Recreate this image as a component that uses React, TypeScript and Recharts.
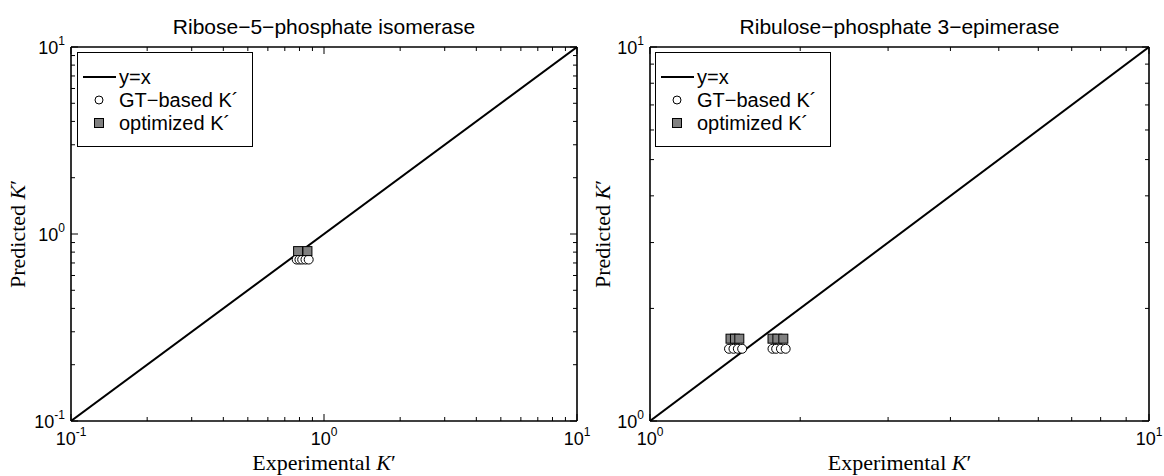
import React from 'react';
import { ScatterChart, Scatter, XAxis, YAxis } from 'recharts';

// Ribose-5-phosphate isomerase (left panel)
const riboseGtX = [0.78, 0.8, 0.82, 0.845, 0.87];
const riboseGtY = [0.73, 0.73, 0.73, 0.73, 0.73];
const riboseOptX = [0.79, 0.86];
const riboseOptY = [0.81, 0.81];
const riboseDomain = [0.1, 10];
const riboseTicks = [0.1, 0.2, 0.3, 0.4, 0.5, 0.6, 0.7, 0.8, 0.9, 1, 2, 3, 4, 5, 6, 7, 8, 9, 10];
const riboseMajor = [0.1, 1, 10];

// Ribulose-phosphate 3-epimerase (right panel)
const epimGtX = [1.44, 1.47, 1.5, 1.53, 1.76, 1.79, 1.83, 1.87];
const epimGtY = [1.56, 1.56, 1.56, 1.56, 1.56, 1.56, 1.56, 1.56];
const epimOptX = [1.45, 1.48, 1.51, 1.76, 1.8, 1.85];
const epimOptY = [1.66, 1.66, 1.66, 1.66, 1.66, 1.66];
const epimDomain = [1, 10];
const epimTicks = [1, 2, 3, 4, 5, 6, 7, 8, 9, 10];
const epimMajor = [1, 10];

const SANS = '"Liberation Sans", Arial, sans-serif';
const SERIF = '"Liberation Serif", "Times New Roman", serif';

const toPoints = (xs: number[], ys: number[]) => xs.map((x, i) => ({ x, y: ys[i] }));
const expOf = (v: number) => String(Math.round(Math.log10(v)));

const TenPow = ({ x, y, v, anchor }: any) => (
  <text x={x} y={y} textAnchor={anchor} fontFamily={SANS} fontSize={18} fill="#000">
    10<tspan dy={-9} fontSize={12}>{expOf(v)}</tspan>
  </text>
);

const makeTick = (side: string, majors: number[]) => (props: any) => {
  const { x, y, payload } = props;
  const v = payload.value;
  const major = majors.includes(v);
  const len = major ? 7 : 4;
  const tickLine =
    side === 'bottom' ? <line x1={x} y1={y} x2={x} y2={y - len} stroke="#000" /> :
    side === 'top' ? <line x1={x} y1={y} x2={x} y2={y + len} stroke="#000" /> :
    side === 'left' ? <line x1={x} y1={y} x2={x + len} y2={y} stroke="#000" /> :
    <line x1={x} y1={y} x2={x - len} y2={y} stroke="#000" />;
  return (
    <g>
      {tickLine}
      {major && side === 'bottom' && <TenPow x={x} y={y + 24} v={v} anchor="middle" />}
      {major && side === 'left' && <TenPow x={x - 6} y={y + 7} v={v} anchor="end" />}
    </g>
  );
};

const Circle = (p: any) => <circle cx={p.cx} cy={p.cy} r={4.5} fill="#fff" stroke="#000" strokeWidth={1} />;
const Square = (p: any) => (
  <rect x={p.cx - 4.5} y={p.cy - 4.5} width={9} height={9} fill="#808080" stroke="#000" strokeWidth={1} />
);
const NoShape = () => <g />;

const LegendBox = ({ left }: { left: number }) => (
  <div style={{ position: 'absolute', left, top: 52, width: 176, height: 95, background: '#fff', border: '1px solid #000', boxSizing: 'border-box' }}>
    <svg width={174} height={93} style={{ display: 'block' }}>
      <line x1={5} y1={24} x2={38} y2={24} stroke="#000" strokeWidth={2} />
      <text x={41} y={31} fontFamily={SANS} fontSize={20}>y=x</text>
      <circle cx={21} cy={47} r={4} fill="#fff" stroke="#000" />
      <text x={41} y={54} fontFamily={SANS} fontSize={20}>GT−based K´</text>
      <rect x={16.5} y={65.5} width={9} height={9} fill="#808080" stroke="#000" />
      <text x={41} y={77} fontFamily={SANS} fontSize={20}>optimized K´</text>
    </svg>
  </div>
);

interface PanelProps {
  left: number;
  width: number;
  plot: { left: number; right: number; top: number; bottom: number };
  yLabelX: number;
  title: string;
  domain: number[];
  ticks: number[];
  majors: number[];
  gt: { x: number; y: number }[];
  opt: { x: number; y: number }[];
}

const Panel = ({ left, width, plot, yLabelX, title, domain, ticks, majors, gt, opt }: PanelProps) => {
  const diag = [{ x: domain[0], y: domain[0] }, { x: domain[1], y: domain[1] }];
  // axes take 1px each, so the margin is one pixel less than the plot edge
  const margin = { top: plot.top - 1, left: plot.left - 1, right: width - plot.right - 1, bottom: 476 - plot.bottom - 1 };
  const cx = (plot.left + plot.right) / 2;
  const cy = (plot.top + plot.bottom) / 2;
  const axisLine = { stroke: '#000', strokeWidth: 1.6 };
  return (
    <div style={{ position: 'absolute', left, top: 0 }}>
      <ScatterChart width={width} height={476} margin={margin}>
        <XAxis
          xAxisId="b" type="number" dataKey="x" scale="log" domain={domain} ticks={ticks} interval={0}
          allowDataOverflow height={1} tickSize={0} tickMargin={0}
          axisLine={axisLine} tickLine={false} tick={makeTick('bottom', majors)}
          label={() => (
            <text x={cx} y={470} textAnchor="middle" fontFamily={SERIF} fontSize={22} fill="#000">
              Experimental <tspan fontStyle="italic">K</tspan>′
            </text>
          )}
        />
        <XAxis
          xAxisId="t" orientation="top" type="number" dataKey="x" scale="log" domain={domain} ticks={ticks} interval={0}
          allowDataOverflow height={1} tickSize={0} tickMargin={0}
          axisLine={axisLine} tickLine={false} tick={makeTick('top', majors)}
          label={() => (
            <text x={cx} y={34} textAnchor="middle" fontFamily={SANS} fontSize={21} fill="#000">{title}</text>
          )}
        />
        <YAxis
          yAxisId="l" type="number" dataKey="y" scale="log" domain={domain} ticks={ticks} interval={0}
          allowDataOverflow width={1} tickSize={0} tickMargin={0}
          axisLine={axisLine} tickLine={false} tick={makeTick('left', majors)}
          label={() => (
            <text x={yLabelX} y={cy} transform={`rotate(-90 ${yLabelX} ${cy})`} textAnchor="middle"
              fontFamily={SERIF} fontSize={22} fill="#000">
              Predicted <tspan fontStyle="italic">K</tspan>′
            </text>
          )}
        />
        <YAxis
          yAxisId="r" orientation="right" type="number" dataKey="y" scale="log" domain={domain} ticks={ticks} interval={0}
          allowDataOverflow width={1} tickSize={0} tickMargin={0}
          axisLine={axisLine} tickLine={false} tick={makeTick('right', majors)}
        />
        <Scatter xAxisId="b" yAxisId="l" data={diag} line={{ stroke: '#000', strokeWidth: 2 }} lineType="joint"
          shape={NoShape} isAnimationActive={false} />
        <Scatter xAxisId="b" yAxisId="l" data={gt} shape={Circle} isAnimationActive={false} />
        <Scatter xAxisId="b" yAxisId="l" data={opt} shape={Square} isAnimationActive={false} />
      </ScatterChart>
    </div>
  );
};

export default function App() {
  return (
    <div style={{ position: 'absolute', left: 0, top: 0, width: 1164, height: 476, background: '#fff', overflow: 'hidden' }}>
      <Panel
        left={0} width={600} plot={{ left: 71, right: 577, top: 47, bottom: 421 }} yLabelX={25}
        title="Ribose−5−phosphate isomerase" domain={riboseDomain} ticks={riboseTicks} majors={riboseMajor}
        gt={toPoints(riboseGtX, riboseGtY)} opt={toPoints(riboseOptX, riboseOptY)}
      />
      <Panel
        left={580} width={584} plot={{ left: 70, right: 569, top: 47, bottom: 421 }} yLabelX={30}
        title="Ribulose−phosphate 3−epimerase" domain={epimDomain} ticks={epimTicks} majors={epimMajor}
        gt={toPoints(epimGtX, epimGtY)} opt={toPoints(epimOptX, epimOptY)}
      />
      <LegendBox left={77} />
      <LegendBox left={655} />
    </div>
  );
}
